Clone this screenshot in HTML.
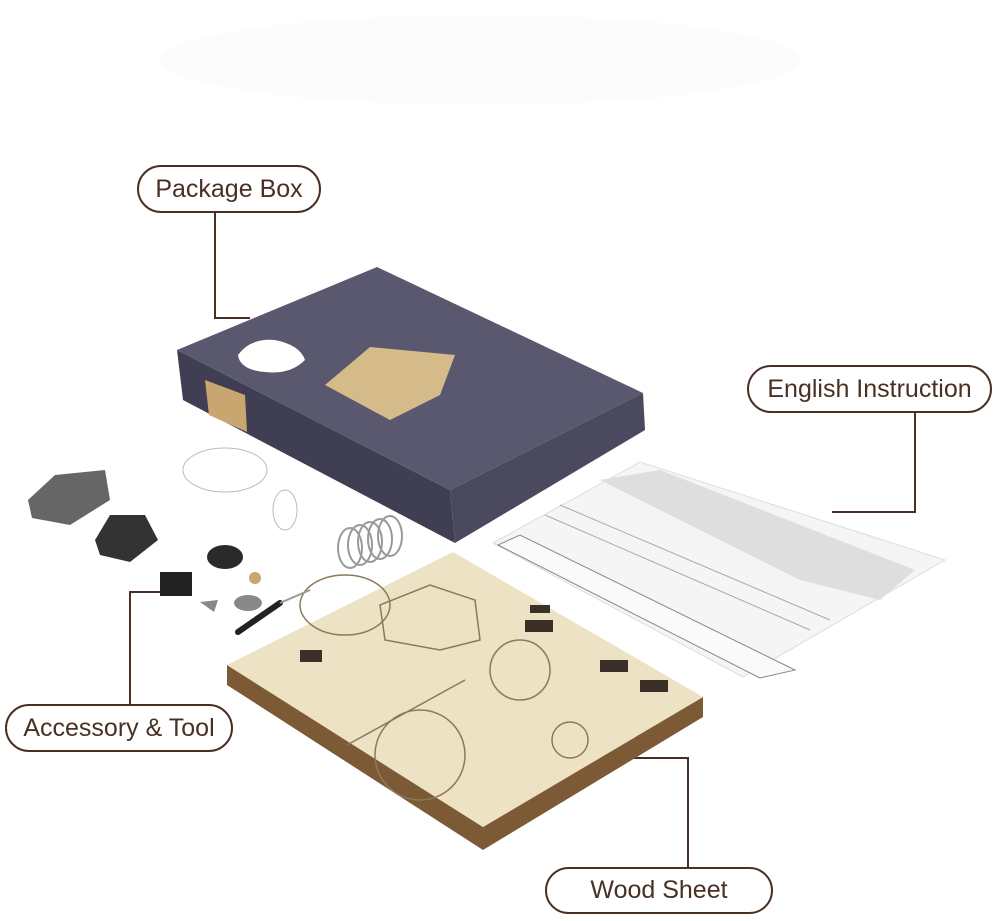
<!DOCTYPE html>
<html><head><meta charset="utf-8"><style>
html,body{margin:0;padding:0;background:#fff;width:1000px;height:921px;overflow:hidden}
.pill{position:absolute;border:2px solid #4a3024;border-radius:26px;color:#4a3024;font-family:"Liberation Sans",sans-serif;font-size:25px;display:flex;align-items:center;justify-content:center;background:#fff;box-sizing:border-box}
svg{position:absolute;left:0;top:0}
</style></head><body>
<svg width="1000" height="921" viewBox="0 0 1000 921">
<ellipse cx="480" cy="60" rx="320" ry="45" fill="#fcfcfc"/>
<!-- connectors -->
<g stroke="#4a3024" stroke-width="2" fill="none">
<polyline points="215,213 215,318 250,318"/>
<polyline points="915,413 915,512 832,512"/>
<polyline points="130,752 130,592 165,592"/>
<polyline points="688,867 688,758 620,758"/>
</g>
<!-- instruction sheet -->
<polygon points="493,543 640,462 945,560 743,677" fill="#f5f5f5" stroke="#ddd"/>
<polygon points="600,480 660,470 915,570 880,600 800,580" fill="#dedede"/>
<polygon points="498,545 520,535 795,670 760,678" fill="#fafafa" stroke="#888" stroke-width="1"/>
<g stroke="#aaa" stroke-width="1"><line x1="560" y1="505" x2="830" y2="620"/><line x1="545" y1="515" x2="810" y2="630"/></g>
<!-- box -->
<polygon points="177,350 183,400 455,543 450,490" fill="#3f3e52"/>
<polygon points="450,490 643,393 645,430 455,543" fill="#4a495e"/>
<polygon points="177,350 377,267 643,393 450,490" fill="#5a586f"/>
<polygon points="205,380 245,395 247,432 209,415" fill="#c9a570"/>
<polygon points="325,385 370,347 455,355 440,395 390,420" fill="#d5bb8a"/>
<path d="M238,355 Q250,338 275,340 Q300,345 305,360 Q290,375 265,372 Q240,370 238,355Z" fill="#fff"/>
<!-- wood sheets -->
<polygon points="227,665 227,685 483,850 703,717 703,697 483,827" fill="#7d5a36"/>
<polygon points="227,665 453,552 703,697 483,827" fill="#eee2c4"/>
<line x1="347" y1="745" x2="465" y2="680" stroke="#8a7a5a" stroke-width="1.5"/>
<g fill="#3a3028"><rect x="525" y="620" width="28" height="12"/><rect x="600" y="660" width="28" height="12"/><rect x="640" y="680" width="28" height="12"/><rect x="300" y="650" width="22" height="12"/><rect x="530" y="605" width="20" height="8"/></g>
<g stroke="#8a7a5a" fill="none" stroke-width="1.5"><circle cx="420" cy="755" r="45"/><ellipse cx="345" cy="605" rx="45" ry="30"/><circle cx="520" cy="670" r="30"/><circle cx="570" cy="740" r="18"/><polygon points="380,605 430,585 475,600 480,640 440,650 385,640"/></g>
<!-- accessories -->
<polygon points="28,500 55,475 105,470 110,500 70,525 32,518" fill="#666"/>
<polygon points="95,540 110,515 145,515 158,540 130,562 100,555" fill="#333"/>
<ellipse cx="225" cy="557" rx="18" ry="12" fill="#2a2a2a"/>
<rect x="160" y="572" width="32" height="24" fill="#222"/>
<circle cx="255" cy="578" r="6" fill="#c9a570"/>
<ellipse cx="248" cy="603" rx="14" ry="8" fill="#888"/>
<line x1="238" y1="632" x2="280" y2="603" stroke="#222" stroke-width="6" stroke-linecap="round"/>
<line x1="280" y1="603" x2="310" y2="590" stroke="#999" stroke-width="2"/>
<ellipse cx="225" cy="470" rx="42" ry="22" fill="none" stroke="#bbb"/>
<ellipse cx="285" cy="510" rx="12" ry="20" fill="none" stroke="#bbb"/>
<g fill="none" stroke="#999" stroke-width="2"><ellipse cx="350" cy="548" rx="12" ry="20"/><ellipse cx="360" cy="545" rx="12" ry="20"/><ellipse cx="370" cy="542" rx="12" ry="20"/><ellipse cx="380" cy="539" rx="12" ry="20"/><ellipse cx="390" cy="536" rx="12" ry="20"/></g>
<polygon points="200,602 218,600 214,612" fill="#888"/>
</svg>
<div class="pill" style="left:137px;top:165px;width:184px;height:48px">Package Box</div>
<div class="pill" style="left:747px;top:365px;width:245px;height:48px">English Instruction</div>
<div class="pill" style="left:5px;top:704px;width:228px;height:48px">Accessory &amp; Tool</div>
<div class="pill" style="left:545px;top:867px;width:228px;height:47px">Wood Sheet</div>
</body></html>
